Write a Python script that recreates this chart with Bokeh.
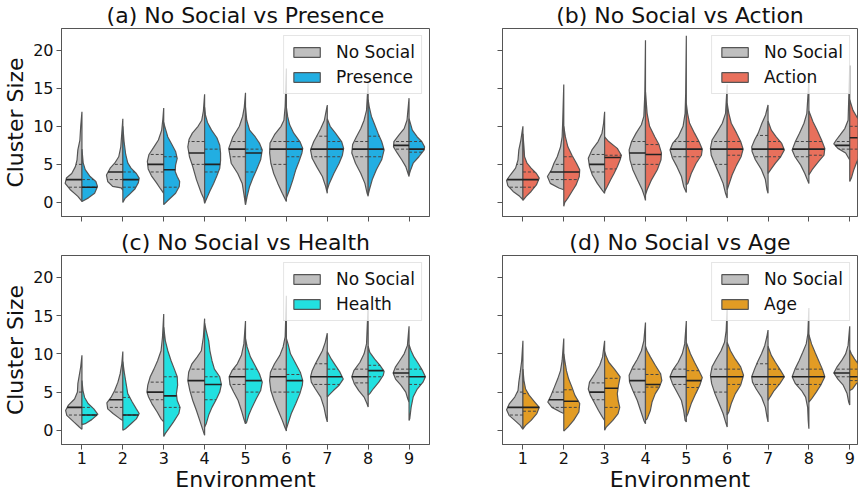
import numpy as np
from bokeh.plotting import figure
from bokeh.layouts import gridplot
from bokeh.models import Range1d, FixedTicker
from bokeh.embed import file_html
from bokeh.resources import INLINE

ENVIRONMENTS = [1, 2, 3, 4, 5, 6, 7, 8, 9]
Y_TICKS = [0, 5, 10, 15, 20]
BASE_NAME = "No Social"
TITLES = ["(a) No Social vs Presence", "(b) No Social vs Action",
          "(c) No Social vs Health", "(d) No Social vs Age"]
SERIES_NAMES = ["Presence", "Action", "Health", "Age"]
SERIES_COLORS = ["#22aee2", "#e8705c", "#22e0e0", "#e29c24"]
BASE_COLOR = "#bfbfbf"

# Half-violin outlines: (cluster size, half width) pairs
A_GREY = [
    [(0.13,0),(0.8,0.1),(1.7,0.29),(2.5,0.41),(3.2,0.38),(3.8,0.25),(4.7,0.16),(5.6,0.12),(6.9,0.1),(8.2,0.05),(10,0.03),(11.9,0)],
    [(1.6,0),(1.9,0.04),(2.1,0.25),(2.75,0.37),(3.6,0.4),(4.5,0.31),(5.15,0.2),(6.0,0.1),(7.3,0.05),(9.1,0.025),(11.0,0)],
    [(1.2,0),(1.8,0.08),(2.6,0.18),(3.5,0.3),(4.4,0.38),(5.4,0.4),(6.3,0.36),(7.2,0.25),(8.2,0.13),(9.5,0.05),(11,0.02),(12.4,0)],
    [(-0.1,0),(0.5,0.02),(1.2,0.08),(3,0.2),(4.7,0.29),(6,0.37),(7.3,0.41),(8.3,0.38),(9.1,0.3),(10,0.16),(10.8,0.07),(12,0.03),(14.2,0)],
    [(-0.3,0),(0.8,0.03),(2.5,0.08),(3.8,0.19),(5.15,0.35),(7.1,0.41),(8.6,0.31),(10,0.15),(11.3,0.07),(12.5,0.03),(14.4,0)],
    [(0.13,0),(1.2,0.1),(2.5,0.21),(3.8,0.31),(5.15,0.38),(6.5,0.41),(7.8,0.4),(8.9,0.29),(10,0.13),(10.8,0.06),(12.6,0.03),(17.6,0)],
    [(1.2,0),(2.1,0.04),(3.4,0.12),(4.7,0.26),(5.8,0.37),(6.9,0.41),(8,0.33),(8.9,0.24),(9.7,0.16),(10.8,0.07),(12.8,0)],
    [(0.8,0),(1.2,0.025),(2.5,0.08),(3.8,0.18),(5.15,0.31),(6.5,0.4),(7.6,0.38),(8.6,0.29),(9.7,0.18),(10.8,0.1),(12.1,0.04),(15.9,0)],
    [(3.4,0),(3.8,0.025),(4.7,0.08),(5.6,0.18),(6.5,0.29),(7.3,0.38),(8,0.37),(8.9,0.24),(9.7,0.12),(10.8,0.05),(13.7,0)],
]
A_PRESENCE = [
    [(0.13,0),(0.6,0.16),(1.2,0.31),(2.1,0.38),(2.75,0.34),(3.4,0.2),(4.3,0.08),(5.2,0.03),(7,0)],
    [(0,0),(0.5,0.05),(1.0,0.15),(1.8,0.3),(2.6,0.38),(3.2,0.4),(3.8,0.33),(4.5,0.2),(5.2,0.12),(6.3,0.07),(8,0.03),(10,0)],
    [(-0.3,0),(0.35,0.12),(1.2,0.29),(2.1,0.38),(2.75,0.39),(3.4,0.33),(4.06,0.28),(4.9,0.29),(5.8,0.33),(6.7,0.29),(7.6,0.2),(8.6,0.1),(10,0.025),(10.5,0)],
    [(-0.1,0),(0.5,0.05),(1.5,0.13),(2.5,0.22),(3.5,0.3),(4.5,0.37),(5.5,0.39),(6.5,0.39),(7.5,0.37),(8.5,0.3),(9.5,0.17),(10.5,0.07),(11.5,0.02),(12.5,0)],
    [(-0.3,0),(0.8,0.04),(2.1,0.1),(3.2,0.18),(4.3,0.27),(5.6,0.37),(6.9,0.41),(7.8,0.34),(8.6,0.24),(9.5,0.1),(10.8,0.03),(12.5,0)],
    [(0.57,0),(1.7,0.08),(3.0,0.16),(4.3,0.23),(5.4,0.31),(6.5,0.38),(7.1,0.4),(8,0.33),(9.1,0.18),(10.2,0.08),(11.3,0.03),(12.5,0)],
    [(1.66,0),(2.5,0.05),(3.8,0.16),(5.15,0.29),(6.2,0.37),(7.1,0.4),(8,0.35),(9.1,0.2),(10,0.07),(11,0)],
    [(1.0,0),(1.66,0.03),(3.0,0.1),(4.3,0.2),(5.6,0.33),(6.9,0.39),(8,0.33),(9.1,0.24),(10.2,0.16),(11.3,0.08),(12.6,0.025),(13.5,0)],
    [(3.6,0),(4.3,0.04),(5.15,0.1),(6,0.24),(6.9,0.37),(7.3,0.38),(8,0.31),(8.6,0.2),(9.5,0.08),(11,0)],
]
A_GREY_Q = [(2,3,5),(3,4,5),(4,5,6.3),(5,6.5,8),(6,7,8),(5,7,8),(6,7,8.7),(6,7,8),(7,7.5,8)]
A_PRESENCE_Q = [(2,2,3),(2,3,4),(2,4.3,6),(4,5,7),(4,6.5,7),(6,7,8),(6,7,8),(6,7,8.7),(6.6,7,8)]

B_GREY = [
    [(0.35,0),(0.8,0.08),(1.44,0.24),(2.2,0.37),(2.9,0.4),(3.6,0.31),(4.5,0.18),(5.6,0.12),(6.9,0.1),(8.2,0.05),(9.1,0.025),(10,0)],
    [(1.66,0),(1.9,0.12),(2.5,0.33),(3.4,0.4),(4.3,0.3),(5.15,0.24),(6,0.16),(7.3,0.08),(8.6,0.04),(10.8,0.025),(15.5,0)],
    [(1.2,0),(1.66,0.065),(2.5,0.18),(3.6,0.3),(4.7,0.37),(5.8,0.4),(6.9,0.31),(8,0.16),(9.1,0.065),(10.4,0.025),(11.9,0)],
    [(0.26,0),(0.8,0.025),(1.66,0.08),(3,0.2),(4.3,0.31),(5.6,0.38),(6.9,0.4),(8,0.34),(9.1,0.23),(10.2,0.1),(11.3,0.04),(14.3,0.016),(21.3,0)],
    [(1.3,0),(2.1,0.065),(3.4,0.12),(4.7,0.23),(5.8,0.34),(6.9,0.4),(7.8,0.33),(8.6,0.2),(10,0.08),(11.7,0.03),(14.3,0.016),(21.9,0)],
    [(0.57,0),(1.2,0.04),(2.5,0.1),(3.8,0.2),(5.15,0.31),(6.2,0.39),(7.1,0.41),(8.2,0.37),(9.3,0.24),(10.4,0.12),(11.7,0.04),(15.5,0)],
    [(1.2,0),(1.66,0.025),(3,0.065),(4.3,0.16),(5.6,0.31),(6.7,0.39),(7.3,0.4),(8.2,0.33),(9.1,0.24),(10.4,0.15),(11.5,0.06),(12.8,0)],
    [(2.5,0),(3,0.04),(3.8,0.1),(4.9,0.2),(6,0.34),(6.9,0.41),(8,0.33),(9.1,0.23),(10.4,0.12),(11.7,0.05),(16,0)],
    [(5.6,0),(5.8,0.025),(6.5,0.1),(7.1,0.29),(7.7,0.39),(8.2,0.33),(8.9,0.23),(9.7,0.12),(10.8,0.04),(18,0)],
]
B_ACTION = [
    [(0.26,0),(0.8,0.08),(1.44,0.2),(2.3,0.33),(3.2,0.4),(3.8,0.33),(4.5,0.2),(5.15,0.1),(6,0.04),(7.3,0.025),(9,0)],
    [(-0.5,0),(0,0.025),(0.57,0.1),(1.44,0.2),(2.3,0.3),(3.4,0.38),(4.3,0.39),(5.15,0.31),(6.2,0.2),(7.3,0.1),(8.6,0.04),(10,0)],
    [(1.44,0),(2.1,0.065),(3,0.15),(3.8,0.23),(4.7,0.31),(5.6,0.38),(6.2,0.41),(7.1,0.31),(8,0.1),(8.6,0)],
    [(1.0,0),(1.66,0.04),(3.0,0.15),(4.3,0.29),(5.6,0.38),(6.5,0.39),(7.6,0.33),(8.6,0.23),(10,0.1),(11.7,0.04),(14.5,0)],
    [(2.3,0),(2.5,0.04),(3.8,0.12),(5.15,0.24),(6.2,0.37),(7,0.39),(8,0.31),(9.1,0.2),(10.4,0.08),(11.7,0.03),(13,0)],
    [(1.66,0),(2.3,0.04),(3.6,0.12),(4.9,0.23),(6,0.34),(7,0.39),(8,0.33),(9.1,0.23),(10.4,0.1),(11.7,0.04),(13,0)],
    [(3.8,0),(4.3,0.065),(5.15,0.18),(6,0.31),(6.9,0.4),(7.8,0.33),(8.6,0.2),(9.5,0.08),(10.7,0)],
    [(3.6,0),(4.3,0.08),(5.4,0.24),(6.2,0.37),(7.1,0.39),(8.2,0.31),(9.5,0.2),(10.6,0.1),(12,0)],
    [(2.75,0),(3.2,0.04),(4.3,0.1),(5.4,0.18),(6.5,0.29),(7.6,0.37),(8.6,0.38),(10,0.31),(11,0.2),(12.1,0.08),(13.5,0)],
]
B_GREY_Q = [(2,3,5),(3,4,5),(4,5,6.3),(5,6.5,8),(6,7,8),(5,7,8),(6,7,8.8),(6,7,8),(7,7.5,8)]
B_ACTION_Q = [(2,3,4),(3,4,6),(4.4,5.9,6.2),(5,6.3,7.6),(6,7,8),(6.2,7,8),(6,7,8),(6.2,7,8),(7,8.5,10)]

C_GREY = [
    [(0.13,0),(0.43,0.065),(1.1,0.2),(1.96,0.37),(2.6,0.4),(3.3,0.33),(4.1,0.18),(5,0.11),(6.1,0.1),(7.2,0.065),(8.3,0.03),(9.8,0)],
    [(1.3,0),(1.5,0.065),(2.2,0.24),(2.8,0.37),(3.6,0.39),(4.3,0.29),(5.2,0.2),(6.3,0.12),(7.4,0.065),(8.7,0.025),(10.3,0)],
    [(1.1,0),(1.5,0.065),(2.4,0.16),(3.5,0.29),(4.35,0.37),(5,0.41),(5.9,0.39),(7,0.33),(8,0.24),(9.1,0.15),(10.4,0.065),(12.2,0.03),(15.2,0)],
    [(-0.65,0),(0,0.04),(1.3,0.12),(2.6,0.2),(3.9,0.29),(5.2,0.36),(6.5,0.41),(7.6,0.39),(8.7,0.31),(9.6,0.18),(10.4,0.08),(12.2,0.03),(14.6,0)],
    [(0.87,0),(1.3,0.03),(2.6,0.1),(3.9,0.18),(5,0.29),(6,0.38),(7,0.4),(7.8,0.33),(8.7,0.2),(9.8,0.1),(11.3,0.04),(14.3,0)],
    [(-0.1,0),(0.43,0.04),(1.3,0.1),(2.6,0.2),(3.9,0.3),(5.2,0.38),(6.5,0.41),(7.6,0.39),(8.7,0.29),(9.8,0.16),(10.9,0.08),(12.2,0.03),(17.6,0)],
    [(1.1,0),(1.7,0.03),(3,0.08),(4.35,0.16),(5.4,0.29),(6.3,0.39),(7,0.41),(7.8,0.37),(8.7,0.29),(9.6,0.2),(10.4,0.12),(11.5,0.05),(12.7,0)],
    [(3.04,0),(3.5,0.03),(4.35,0.1),(5.2,0.23),(6.1,0.34),(7,0.4),(7.8,0.35),(8.9,0.2),(10,0.1),(11.3,0.04),(16.5,0)],
    [(3.7,0),(4.1,0.03),(5,0.08),(5.9,0.2),(6.7,0.33),(7.5,0.39),(8.3,0.33),(9.1,0.23),(10,0.12),(11.1,0.04),(13.6,0)],
]
C_HEALTH = [
    [(0.74,0),(0.87,0.08),(1.4,0.24),(2.1,0.39),(2.8,0.29),(3.5,0.15),(4.3,0.065),(5.2,0.025),(6.5,0)],
    [(0,0),(0.2,0.065),(0.87,0.2),(1.5,0.33),(2.2,0.4),(2.8,0.33),(3.7,0.23),(4.8,0.12),(6.1,0.08),(7.4,0.04),(9,0)],
    [(-0.8,0),(-0.4,0.04),(0.2,0.12),(1.1,0.24),(2.2,0.37),(3,0.4),(3.9,0.33),(4.8,0.31),(5.9,0.34),(7,0.33),(8,0.26),(9.1,0.18),(10.4,0.1),(11.7,0.04),(13.5,0)],
    [(0.43,0),(0.87,0.04),(2,0.1),(3,0.18),(4.1,0.29),(5,0.37),(6,0.41),(7,0.37),(8,0.24),(9.1,0.18),(10.4,0.13),(11.7,0.1),(13,0.04),(14,0)],
    [(0.87,0),(1.0,0.025),(2,0.08),(3,0.16),(4.1,0.26),(5.2,0.37),(6.3,0.41),(7.4,0.34),(8.5,0.23),(9.6,0.12),(10.9,0.04),(12,0)],
    [(0.2,0),(0.87,0.04),(2.2,0.12),(3.5,0.23),(4.8,0.33),(5.9,0.39),(6.5,0.4),(7.6,0.34),(8.7,0.23),(10,0.1),(11.3,0.04),(12,0)],
    [(4.35,0),(4.6,0.04),(5.2,0.15),(5.9,0.29),(6.7,0.39),(7.6,0.31),(8.5,0.2),(9.3,0.1),(10.3,0)],
    [(4.6,0),(4.8,0.04),(5.4,0.12),(6.3,0.26),(7.2,0.37),(7.7,0.39),(8.5,0.29),(9.3,0.16),(10.2,0.04),(11,0)],
    [(1.3,0),(1.5,0.016),(3,0.05),(4.35,0.1),(5.4,0.2),(6.3,0.34),(7,0.4),(7.8,0.33),(8.7,0.23),(9.6,0.12),(10.4,0.05),(11.2,0)],
]
C_GREY_Q = [(2,3,5),(3,4,5),(4,5,6.3),(5,6.5,8),(6,7,8),(5,7,8),(6,7,8.7),(6.2,7,8),(7,7.5,8)]
C_HEALTH_Q = [(2,2,3),(2,2,4.3),(3,4.5,7),(4,6,7),(5,6.5,8),(5,6.5,7.3),(6,7,8),(7,7.8,8.5),(6,7,8)]

D_GREY = [
    [(0.13,0),(0.65,0.065),(1.3,0.2),(1.96,0.34),(2.7,0.4),(3.5,0.33),(4.35,0.2),(5.2,0.12),(6.3,0.1),(7.6,0.065),(9.1,0.03),(11.7,0)],
    [(2.2,0),(2.4,0.08),(3,0.29),(3.7,0.39),(4.6,0.31),(5.65,0.23),(6.7,0.15),(7.8,0.08),(9.1,0.04),(12,0)],
    [(1.3,0),(1.7,0.05),(2.6,0.15),(3.7,0.26),(4.6,0.35),(5.4,0.4),(6.3,0.37),(7.4,0.24),(8.5,0.12),(9.6,0.05),(11.7,0)],
    [(0.87,0),(1.3,0.04),(2.6,0.12),(3.9,0.2),(5.2,0.31),(6.3,0.39),(7.2,0.4),(8.3,0.31),(9.3,0.2),(10.4,0.1),(11.7,0.04),(14.1,0)],
    [(1.1,0),(1.3,0.03),(2.6,0.065),(3.9,0.12),(5,0.23),(6.1,0.34),(7,0.4),(7.8,0.34),(8.9,0.2),(10,0.1),(11.3,0.04),(14.3,0)],
    [(0.43,0),(1.1,0.04),(2.2,0.1),(3.5,0.2),(4.8,0.3),(6.1,0.38),(7.2,0.41),(8.3,0.37),(9.3,0.27),(10.4,0.15),(11.5,0.065),(13,0.025),(16.1,0)],
    [(1.1,0),(1.74,0.025),(3,0.065),(4.35,0.16),(5.4,0.29),(6.3,0.38),(7,0.4),(8,0.33),(8.9,0.26),(10,0.16),(11.1,0.08),(12.2,0.03),(13.1,0)],
    [(0.2,0),(1.3,0.016),(3,0.03),(4.35,0.08),(5.2,0.18),(6.1,0.33),(7,0.41),(8,0.34),(9.1,0.24),(10.2,0.15),(11.3,0.065),(12.6,0.025),(16,0)],
    [(3.3,0),(3.7,0.025),(4.8,0.065),(5.9,0.16),(6.7,0.29),(7.5,0.39),(8.3,0.31),(9.1,0.2),(10,0.1),(11.1,0.04),(13.6,0)],
]
D_AGE = [
    [(0.2,0),(0.65,0.065),(1.3,0.2),(2.2,0.34),(3,0.4),(3.7,0.29),(4.6,0.15),(5.4,0.065),(6.5,0.025),(8,0)],
    [(-0.1,0),(0.43,0.1),(1.3,0.24),(2.4,0.37),(3.5,0.39),(4.6,0.27),(5.65,0.2),(6.7,0.12),(7.8,0.065),(9.1,0.025),(10,0)],
    [(0,0),(0.43,0.04),(1.3,0.2),(2.2,0.33),(3,0.37),(3.9,0.33),(4.8,0.31),(5.9,0.34),(7,0.38),(8,0.24),(8.9,0.1),(9.8,0.03),(10.3,0)],
    [(1.3,0),(1.5,0.04),(2.6,0.12),(3.7,0.16),(4.8,0.24),(5.65,0.34),(6.5,0.4),(7.4,0.37),(8.5,0.24),(9.6,0.12),(10.4,0.04),(11,0)],
    [(1.74,0),(2.2,0.04),(3.5,0.12),(4.8,0.23),(5.9,0.33),(6.9,0.39),(7.8,0.31),(8.9,0.2),(10,0.1),(11.5,0)],
    [(2,0),(2.4,0.04),(3.5,0.1),(4.8,0.2),(5.9,0.33),(7.2,0.4),(8.3,0.33),(9.3,0.2),(10.4,0.08),(11.5,0)],
    [(3.9,0),(4.35,0.05),(5.2,0.15),(6.1,0.29),(7,0.4),(7.8,0.31),(8.9,0.18),(9.8,0.08),(11,0)],
    [(3.7,0),(4.1,0.065),(5,0.18),(5.9,0.29),(7,0.39),(8,0.33),(9.1,0.24),(10.2,0.15),(11.3,0.065),(12.5,0)],
    [(5.2,0),(5.4,0.065),(6.1,0.16),(6.7,0.29),(7,0.39),(7.6,0.33),(8.5,0.23),(9.3,0.12),(10,0.04),(10.5,0)],
]
D_GREY_Q = [(2,3,5),(3,4,5),(4,5,6.2),(5,6.5,8),(6,7,8),(5,7,8),(6,7,8.7),(6,7,8),(7,7.5,8)]
D_AGE_Q = [(2.5,3,4.8),(3,3.8,5.3),(3,5.5,6.8),(5.65,6,7.3),(5.6,6.5,7.8),(6,7,8),(6,7,8),(6,7,8),(6.5,7,8)]

PANELS = [
    (A_GREY, A_GREY_Q, A_PRESENCE, A_PRESENCE_Q),
    (B_GREY, B_GREY_Q, B_ACTION, B_ACTION_Q),
    (C_GREY, C_GREY_Q, C_HEALTH, C_HEALTH_Q),
    (D_GREY, D_GREY_Q, D_AGE, D_AGE_Q),
]

FONT = "DejaVu Sans"
EDGE = "#555555"


def halves(profiles, side):
    xs, ys = [], []
    for env, prof in zip(ENVIRONMENTS, profiles):
        ys.append([pt[0] for pt in prof])
        xs.append([env + side * pt[1] for pt in prof])
    return xs, ys


def quartile_lines(profiles, quarts, side):
    med = dict(x0=[], y0=[], x1=[], y1=[])
    qs = dict(x0=[], y0=[], x1=[], y1=[])
    for env, prof, q in zip(ENVIRONMENTS, profiles, quarts):
        yy = [pt[0] for pt in prof]
        ww = [pt[1] for pt in prof]
        for j, qv in enumerate(q):
            w = float(np.interp(qv, yy, ww))
            d = med if j == 1 else qs
            d["x0"].append(env)
            d["x1"].append(env + side * w)
            d["y0"].append(qv)
            d["y1"].append(qv)
    return med, qs


def make_panel(idx, left, bottom):
    grey, grey_q, col, col_q = PANELS[idx]
    x_end = 9.5 if left else 9.19
    p = figure(frame_width=368 if left else 355,
               frame_height=188 if not bottom else 189,
               x_range=Range1d(0.5, x_end), y_range=Range1d(-1.85, 22.85),
               output_backend="svg", toolbar_location=None, title=TITLES[idx])
    p.min_border_left = 54 if left else 63
    p.min_border_right = 10 if left else 1
    p.min_border_top = 30 if bottom else 26
    p.min_border_bottom = 0 if bottom else 9
    p.title.text_font = FONT
    p.title.text_font_size = "22px"
    p.title.text_font_style = "normal"
    p.title.align = "center"
    p.title.text_color = "#111111"
    p.title.standoff = 1

    p.xgrid.visible = False
    p.ygrid.visible = False
    p.outline_line_color = EDGE
    p.outline_line_width = 1
    p.xaxis.ticker = FixedTicker(ticks=ENVIRONMENTS)
    p.yaxis.ticker = FixedTicker(ticks=Y_TICKS)
    for ax in (p.xaxis[0], p.yaxis[0]):
        ax.axis_line_color = EDGE
        ax.major_tick_line_color = EDGE
        ax.minor_tick_line_color = None
        ax.major_tick_out = 5
        ax.major_tick_in = 0
        ax.major_label_text_font = FONT
        ax.major_label_text_font_size = "16px"
        ax.major_label_text_color = "#111111"
        ax.major_label_standoff = 2
        ax.axis_label_text_font = FONT
        ax.axis_label_text_font_size = "22px"
        ax.axis_label_text_font_style = "normal"
        ax.axis_label_text_color = "#111111"
        ax.axis_label_standoff = 2
    if left:
        p.yaxis.axis_label = "Cluster Size"
        p.yaxis.major_label_standoff = 3
    else:
        # shared y axis: tick marks only
        p.yaxis.major_label_text_font_size = "1px"
        p.yaxis.major_label_text_color = None
        p.yaxis.major_label_standoff = 0
    if bottom:
        p.xaxis.axis_label = "Environment"
        p.xaxis.axis_label_standoff = 0
    else:
        # shared x axis: tick marks only
        p.xaxis.major_label_text_font_size = "1px"
        p.xaxis.major_label_text_color = None
        p.xaxis.major_label_standoff = 0

    gx, gy = halves(grey, -1)
    p.patches(gx, gy, fill_color=BASE_COLOR, line_color=EDGE, line_width=1.2,
              legend_label=BASE_NAME)
    cx, cy = halves(col, 1)
    p.patches(cx, cy, fill_color=SERIES_COLORS[idx], line_color=EDGE, line_width=1.2,
              legend_label=SERIES_NAMES[idx])

    for prof, qq, side in ((grey, grey_q, -1), (col, col_q, 1)):
        med, qs = quartile_lines(prof, qq, side)
        p.segment(x0="x0", y0="y0", x1="x1", y1="y1", source=qs,
                  line_color="#444444", line_width=1, line_dash="3 2")
        p.segment(x0="x0", y0="y0", x1="x1", y1="y1", source=med,
                  line_color="#222222", line_width=1.6)

    lg = p.legend[0]
    lg.location = "top_right"
    lg.label_text_font = FONT
    lg.label_text_font_size = "17px"
    lg.label_text_color = "#111111"
    lg.glyph_width = 33
    lg.glyph_height = 12
    lg.label_height = 20
    lg.label_standoff = 13
    lg.spacing = 5
    lg.padding = 6
    lg.margin = 7
    lg.border_line_color = "#cccccc"
    lg.background_fill_alpha = 0.8
    return p


pa = make_panel(0, True, False)
pb = make_panel(1, False, False)
pc = make_panel(2, True, True)
pd = make_panel(3, False, True)

grid = gridplot([[pa, pb], [pc, pd]], toolbar_location=None)

with open("out.html", "w") as f:
    f.write(file_html(grid, INLINE))
